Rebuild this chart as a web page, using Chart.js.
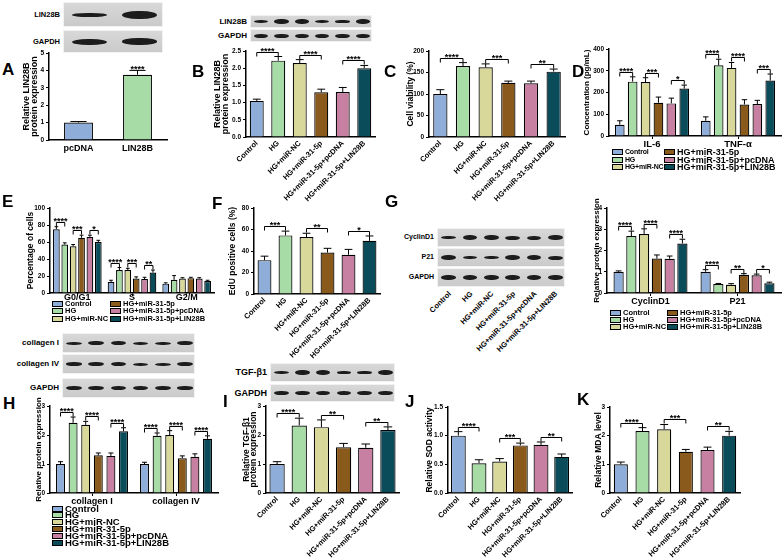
<!DOCTYPE html>
<html>
<head>
<meta charset="utf-8">
<script src="https://cdn.jsdelivr.net/npm/chart.js@4.4.1/dist/chart.umd.min.js"></script>
<style>
  body { margin:0; width:784px; height:560px; position:relative; overflow:hidden; background:#fff;
         font-family:"Liberation Sans", Arial, sans-serif; color:#000; }
  canvas, .abs { position:absolute; }
  .letter { position:absolute; font-weight:bold; font-size:17px; line-height:17px; }
  .blot { position:absolute; background:linear-gradient(#d8d8d8,#cacaca); border:1px solid #f2f2f2; box-sizing:border-box; }
  .band { position:absolute; background:#1c1c1c; border-radius:45%/50%; filter:blur(0.7px); }
  .blab { position:absolute; font-weight:bold; white-space:nowrap; }
  .leg { position:absolute; font-weight:bold; white-space:nowrap; line-height:6px; }
  .sw { display:inline-block; width:11px; height:6px; border:1px solid #000; box-sizing:border-box; vertical-align:top; margin-right:2px; }
</style>
</head>
<body>
<script>
// treatment groups shared by most panels
const groups = ['Control', 'HG', 'HG+miR-NC', 'HG+miR-31-5p', 'HG+miR-31-5p+pcDNA', 'HG+miR-31-5p+LIN28B'];
const groupColors = ['#8eadd9', '#a8dca6', '#d8d89a', '#8a5a1c', '#c77fa2', '#0b4c5b'];

// A
const aLabels = ['pcDNA', 'LIN28B'];
const aValues = [1.0, 3.75];
const aErrors = [0.06, 0.25];
const aSig = [[1, null, '****']];
// B
const bValues = [1.05, 2.22, 2.15, 1.3, 1.31, 2.0];
const bErrors = [0.05, 0.12, 0.1, 0.09, 0.13, 0.08];
const bSig = [[0, 1, '****'], [2, 3, '****'], [4, 5, '****']];
// C
const cValues = [100, 165, 162, 126, 125, 152];
const cErrors = [10, 8, 8, 4, 5, 6];
const cSig = [[0, 1, '****'], [2, 3, '***'], [4, 5, '**']];
// D
const dCats = ['IL-6', 'TNF-α'];
const dIL6 = [52, 250, 248, 153, 150, 218];
const dIL6Err = [18, 22, 20, 26, 24, 16];
const dTNF = [70, 325, 313, 145, 147, 255];
const dTNFErr = [18, 28, 25, 22, 17, 30];
const dIL6Sig = [[0, 1, '****'], [2, 3, '***'], [4, 5, '*']];
const dTNFSig = [[0, 1, '****'], [2, 3, '****'], [4, 5, '***']];
// E
const eCats = ['G0/G1', 'S', 'G2/M'];
const eG0G1 = [75, 57, 55, 65, 66, 60];
const eG0G1Err = [3, 2, 2, 3, 2, 2];
const eS = [13, 27, 27, 17, 16.5, 24];
const eSErr = [2, 3, 2, 2, 2, 3];
const eG2M = [11, 15.5, 17, 17.5, 17, 14];
const eG2MErr = [1, 5, 1, 1, 1, 1];
const eG0G1Sig = [[0, 1, '****'], [2, 3, '***'], [4, 5, '*']];
const eSSig = [[0, 1, '****'], [2, 3, '***'], [4, 5, '**']];
// F
const fValues = [31.5, 54.5, 53, 38.5, 36.5, 49.5];
const fErrors = [3.7, 4, 3.5, 4, 5, 4.5];
const fSig = [[0, 1, '***'], [2, 3, '**'], [4, 5, '*']];
// G
const gCats = ['CyclinD1', 'P21'];
const gCyclin = [1.0, 2.68, 2.78, 1.62, 1.61, 2.33];
const gCyclinErr = [0.04, 0.23, 0.24, 0.17, 0.13, 0.2];
const gP21 = [1.0, 0.42, 0.39, 0.86, 0.83, 0.46];
const gP21Err = [0.1, 0.03, 0.05, 0.05, 0.06, 0.05];
const gCyclinSig = [[0, 1, '****'], [2, 3, '****'], [4, 5, '****']];
const gP21Sig = [[0, 1, '****'], [2, 3, '**'], [4, 5, '*']];
// H
const hCats = ['collagen I', 'collagen IV'];
const hCol1 = [1.0, 2.42, 2.35, 1.3, 1.28, 2.13];
const hCol1Err = [0.08, 0.2, 0.12, 0.08, 0.1, 0.12];
const hCol4 = [1.0, 1.97, 2.0, 1.2, 1.25, 1.87];
const hCol4Err = [0.06, 0.1, 0.15, 0.08, 0.1, 0.1];
const hCol1Sig = [[0, 1, '****'], [2, 3, '****'], [4, 5, '****']];
const hCol4Sig = [[0, 1, '****'], [2, 3, '****'], [4, 5, '****']];
// I
const iValues = [1.0, 2.33, 2.27, 1.58, 1.56, 2.17];
const iErrors = [0.08, 0.25, 0.25, 0.13, 0.13, 0.11];
const iSig = [[0, 1, '****'], [2, 3, '**'], [4, 5, '**']];
// J
const jValues = [1.0, 0.52, 0.55, 0.83, 0.84, 0.63];
const jErrors = [0.07, 0.06, 0.05, 0.04, 0.05, 0.05];
const jSig = [[0, 1, '****'], [2, 3, '***'], [4, 5, '**']];
// K
const kValues = [1.0, 2.16, 2.22, 1.44, 1.5, 2.0];
const kErrors = [0.08, 0.12, 0.17, 0.08, 0.1, 0.15];
const kSig = [[0, 1, '****'], [2, 3, '***'], [4, 5, '**']];

Chart.defaults.font.family = '"Liberation Sans", Arial, sans-serif';
Chart.defaults.color = '#000';

function el(tag, cls, x, y) {
    const d = document.createElement(tag);
    d.className = cls;
    d.style.left = x + 'px';
    d.style.top = y + 'px';
    document.body.appendChild(d);
    return d;
}

// error bars (upward only) and significance brackets
function marks(m) {
    return {
        id: 'marks',
        afterDatasetsDraw(chart) {
            const ctx = chart.ctx, ys = chart.scales.y;
            const bar = (g, i) => m.grouped ? chart.getDatasetMeta(i).data[g] : chart.getDatasetMeta(0).data[i];
            const top = (g, i) => ys.getPixelForValue(m.values[g][i] + m.errors[g][i]);
            ctx.save();
            ctx.strokeStyle = '#000';
            ctx.lineWidth = 1;
            m.values.forEach((vals, g) => vals.forEach((v, i) => {
                const b = bar(g, i), t = top(g, i), h = b.width * 0.28;
                ctx.beginPath();
                ctx.moveTo(b.x, b.y); ctx.lineTo(b.x, t);
                ctx.moveTo(b.x - h, t); ctx.lineTo(b.x + h, t);
                ctx.stroke();
            }));
            ctx.font = 'bold 9px "Liberation Sans"';
            ctx.textAlign = 'center';
            ctx.fillStyle = '#000';
            m.sig.forEach((list, g) => list.forEach(([i, j, s]) => {
                if (j === null) { ctx.fillText(s, bar(g, i).x, top(g, i) + 2); return; }
                const xi = bar(g, i).x, xj = bar(g, j).x;
                const yl = Math.round(Math.min(top(g, i), top(g, j)) - 5) + 0.5;
                ctx.beginPath();
                ctx.moveTo(xi, yl + 4); ctx.lineTo(xi, yl); ctx.lineTo(xj, yl); ctx.lineTo(xj, yl + 4);
                ctx.stroke();
                ctx.fillText(s, (xi + xj) / 2, yl + 1.5);
            }));
            ctx.restore();
        }
    };
}

function makeChart(box, cfg) {
    const L = Math.floor(box.tx - 6), padTop = 16, padRight = 6;
    const two = Array.isArray(box.title);
    const tSize = box.ts || 8.5, tLine = two ? 0.85 : 1;
    const xh = Math.max(box.xh, 24);
    const cv = document.createElement('canvas');
    cv.width = box.ae - L + padRight;
    cv.height = box.yb - box.yt + padTop + xh;
    cv.style.left = L + 'px';
    cv.style.top = (box.yt - padTop) + 'px';
    document.body.appendChild(cv);

    let datasets;
    if (cfg.grouped) {
        datasets = groups.map((g, k) => ({
            label: g,
            data: cfg.values.map(a => a[k]),
            backgroundColor: groupColors[k],
            borderColor: '#000', borderWidth: 1.2,
            barPercentage: cfg.bp, categoryPercentage: cfg.cp
        }));
    } else {
        datasets = [{
            data: cfg.values[0],
            backgroundColor: cfg.colors || groupColors,
            borderColor: '#000', borderWidth: 1.2,
            barPercentage: cfg.bp, categoryPercentage: 1
        }];
    }

    new Chart(cv, {
        type: 'bar',
        data: { labels: cfg.labels, datasets: datasets },
        options: {
            responsive: false, animation: false, devicePixelRatio: 1,
            layout: { padding: { top: padTop, right: padRight, left: 0, bottom: 0 } },
            plugins: { legend: { display: false }, tooltip: { enabled: false } },
            scales: {
                x: {
                    grid: { display: !!cfg.grouped, drawOnChartArea: false, drawTicks: !!cfg.grouped,
                            tickLength: 3, offset: false, color: '#000', lineWidth: 1 },
                    border: { display: true, color: '#000', width: 1.5 },
                    ticks: { autoSkip: false, maxRotation: cfg.rot, minRotation: cfg.rot, padding: cfg.xpad,
                             color: '#000', font: { size: cfg.xfont, weight: 'bold' } },
                    afterFit: s => { s.height = xh; }
                },
                y: {
                    min: 0, max: cfg.max,
                    ticks: { stepSize: cfg.step, color: '#000', padding: 2, font: { size: 6.5, weight: 'bold' },
                             callback: v => cfg.dec ? v.toFixed(1) : v },
                    grid: { display: true, drawOnChartArea: false, drawTicks: true, tickLength: 3, color: '#000', lineWidth: 1 },
                    border: { display: true, color: '#000', width: 1.5 },
                    title: { display: true, text: box.title, color: '#000',
                             font: { size: tSize, weight: 'bold', lineHeight: tLine },
                             padding: { top: box.tx - L - tSize * tLine / 2, bottom: 0 } },
                    afterFit: s => { s.width = box.ax - L; }
                }
            }
        },
        plugins: [marks({ grouped: cfg.grouped, values: cfg.values, errors: cfg.errors, sig: cfg.sig })]
    });
}

function blot(spec) {
    spec.rows.forEach(r => {
        const b = el('div', 'blot', spec.x, r.y);
        b.style.width = spec.w + 'px';
        b.style.height = r.h + 'px';
        const lw = spec.w / r.bands.length;
        r.bands.forEach((t, k) => {
            const band = document.createElement('div');
            band.className = 'band';
            band.style.left = (k * lw + lw * 0.15) + 'px';
            band.style.width = (lw * 0.7) + 'px';
            band.style.top = (r.h / 2 - t / 2 - 1) + 'px';
            band.style.height = t + 'px';
            b.appendChild(band);
        });
        const lab = el('div', 'blab', 0, r.y + r.h / 2 - spec.font * 0.6);
        lab.style.left = 'auto';
        lab.style.right = (784 - spec.x + 3) + 'px';
        lab.style.fontSize = spec.font + 'px';
        lab.textContent = r.label;
    });
}

function legend(x0, y0, colGap, rowGap, perCol, sizes, spacing) {
    groups.forEach((g, k) => {
        const col = Math.floor(k / perCol), row = k % perCol;
        const d = el('div', 'leg', x0 + col * colGap, y0 + row * rowGap);
        d.style.fontSize = sizes[col] + 'px';
        if (spacing) d.style.letterSpacing = spacing[col] + 'px';
        d.innerHTML = '<span class="sw" style="background:' + groupColors[k] + '"></span>' + g;
    });
}

function letter(t, x, y) {
    el('div', 'letter', x, y - 2).textContent = t;
}

// ---- blots ----
blot({ x: 63, w: 100, font: 7.5, rows: [
    { label: 'LIN28B', y: 2, h: 25, bands: [4, 8] },
    { label: 'GAPDH', y: 30, h: 23, bands: [6, 6.5] }] });
blot({ x: 250, w: 122, font: 8, rows: [
    { label: 'LIN28B', y: 15, h: 13, bands: [3, 4.5, 4.5, 3, 3.5, 4.5] },
    { label: 'GAPDH', y: 29, h: 13, bands: [4, 4, 4, 4, 4, 4] }] });
blot({ x: 437, w: 128, font: 7, rows: [
    { label: 'CyclinD1', y: 228, h: 19, bands: [3.5, 5, 5, 4, 4, 5] },
    { label: 'P21', y: 248, h: 19, bands: [5, 3.5, 3.5, 5, 5, 4] },
    { label: 'GAPDH', y: 268, h: 19, bands: [4.5, 4.5, 4.5, 4.5, 4.5, 4.5] }] });
blot({ x: 62, w: 133, font: 8, rows: [
    { label: 'collagen I', y: 333, h: 20, bands: [3, 4, 4, 3, 3, 4] },
    { label: 'collagen IV', y: 354, h: 20, bands: [3.5, 4, 4, 3, 3, 4] },
    { label: 'GAPDH', y: 378, h: 20, bands: [4, 4, 4, 4, 4, 3.5] }] });
blot({ x: 270, w: 125, font: 9, rows: [
    { label: 'TGF-β1', y: 363, h: 19, bands: [3, 5, 5, 3.5, 3.5, 5] },
    { label: 'GAPDH', y: 384, h: 18, bands: [4, 4, 4, 4, 4, 4] }] });

// lane labels under the G blot
groups.forEach((g, k) => {
    const w = el('div', 'abs', 437 + (k + 0.5) * 128 / 6 + 2, 292);
    w.innerHTML = '<span style="position:absolute;right:0;top:-4px;font:bold 7.5px \'Liberation Sans\';white-space:nowrap;transform-origin:100% 50%;transform:rotate(-45deg)">' + g + '</span>';
});

// ---- charts ----
makeChart({ ax: 49, ae: 167, yt: 53, yb: 140, xh: 22, tx: 27, ts: 9, title: ['Relative LIN28B', 'protein expression'] },
    { labels: aLabels, values: [aValues], errors: [aErrors], sig: [aSig], colors: ['#8eadd9', '#a8dca6'],
      max: 5, step: 1, rot: 0, xfont: 9, xpad: 3, bp: 0.49 });
makeChart({ ax: 246, ae: 375, yt: 51, yb: 137, xh: 66, tx: 218, ts: 9, title: ['Relative LIN28B', 'protein expression'] },
    { labels: groups, values: [bValues], errors: [bErrors], sig: [bSig],
      max: 2.5, step: 0.5, dec: true, rot: 45, xfont: 7.5, xpad: 2, bp: 0.65 });
makeChart({ ax: 429, ae: 565, yt: 51, yb: 137, xh: 66, tx: 411, title: 'Cell viability (%)' },
    { labels: groups, values: [cValues], errors: [cErrors], sig: [cSig],
      max: 200, step: 50, rot: 45, xfont: 7.5, xpad: 2, bp: 0.63 });
makeChart({ ax: 609, ae: 781, yt: 49, yb: 136, xh: 14, tx: 587, ts: 8, title: 'Concentration (pg/mL)' },
    { grouped: true, labels: dCats, values: [dIL6, dTNF], errors: [dIL6Err, dTNFErr], sig: [dIL6Sig, dTNFSig],
      max: 400, step: 100, rot: 0, xfont: 9.5, xpad: 0, bp: 0.75, cp: 0.9 });
makeChart({ ax: 50, ae: 214, yt: 208, yb: 293, xh: 14, tx: 31, title: 'Percentage of cells' },
    { grouped: true, labels: eCats, values: [eG0G1, eS, eG2M], errors: [eG0G1Err, eSErr, eG2MErr], sig: [eG0G1Sig, eSSig, []],
      max: 100, step: 20, rot: 0, xfont: 9, xpad: -4, bp: 0.8, cp: 0.92 });
makeChart({ ax: 254, ae: 380, yt: 208, yb: 294, xh: 70, tx: 232.5, title: 'EdU positive cells (%)' },
    { labels: groups, values: [fValues], errors: [fErrors], sig: [fSig],
      max: 80, step: 20, rot: 45, xfont: 7.5, xpad: 2, bp: 0.66 });
makeChart({ ax: 607, ae: 781, yt: 208, yb: 293, xh: 14, tx: 597, ts: 8, title: 'Relative protein expression' },
    { grouped: true, labels: gCats, values: [gCyclin, gP21], errors: [gCyclinErr, gP21Err], sig: [gCyclinSig, gP21Sig],
      max: 4, step: 1, rot: 0, xfont: 9, xpad: 0, bp: 0.8, cp: 0.88 });
makeChart({ ax: 50, ae: 218, yt: 406, yb: 493, xh: 14, tx: 38.5, ts: 8, title: 'Relative protein expression' },
    { grouped: true, labels: hCats, values: [hCol1, hCol4], errors: [hCol1Err, hCol4Err], sig: [hCol1Sig, hCol4Sig],
      max: 3, step: 1, rot: 0, xfont: 9, xpad: 0, bp: 0.71, cp: 0.9 });
makeChart({ ax: 266, ae: 399, yt: 406, yb: 493, xh: 67, tx: 246.5, ts: 8.5, title: ['Relative TGF-β1', 'protein expression'] },
    { labels: groups, values: [iValues], errors: [iErrors], sig: [iSig],
      max: 3, step: 1, rot: 45, xfont: 7.5, xpad: 2, bp: 0.69 });
makeChart({ ax: 448, ae: 572, yt: 407, yb: 493, xh: 67, tx: 430, title: 'Relative SOD activity' },
    { labels: groups, values: [jValues], errors: [jErrors], sig: [jSig],
      max: 1.5, step: 0.5, dec: true, rot: 45, xfont: 7.5, xpad: 2, bp: 0.72 });
makeChart({ ax: 610, ae: 740, yt: 407, yb: 493, xh: 67, tx: 598.5, title: 'Relative MDA level' },
    { labels: groups, values: [kValues], errors: [kErrors], sig: [kSig],
      max: 3, step: 1, rot: 45, xfont: 7.5, xpad: 2, bp: 0.65 });

// ---- legends ----
legend(612, 149, 52, 7.5, 3, [7, 9], [-0.2, 0]);
legend(52, 300.5, 58, 7.5, 3, [7.5, 7.5]);
legend(610, 310, 57, 7, 3, [7.5, 7.5]);
legend(52, 505.5, 0, 6.9, 6, [9.5]);

// ---- panel letters ----
letter('A', 2, 63); letter('B', 192, 65); letter('C', 384, 65); letter('D', 572, 65);
letter('E', 2, 195); letter('F', 212, 197); letter('G', 385, 195);
letter('H', 3, 397); letter('I', 223, 395); letter('J', 405, 395); letter('K', 577, 393);
</script>
</body>
</html>
